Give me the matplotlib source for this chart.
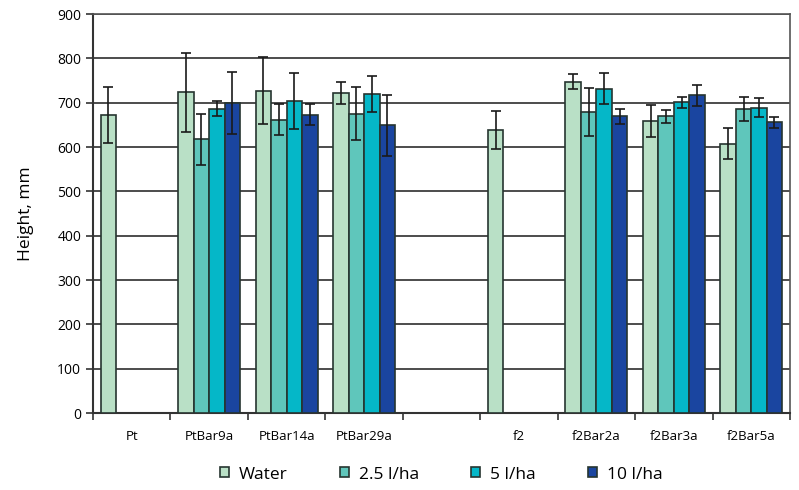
import numpy as np
import matplotlib
matplotlib.use("Agg")
import matplotlib.pyplot as plt

plt.rcParams['font.family'] = ['Open Sans', 'DejaVu Sans']

# categories along the x axis ('' is the empty gap slot)
categories = ["Pt", "PtBar9a", "PtBar14a", "PtBar29a", "", "f2", "f2Bar2a", "f2Bar3a", "f2Bar5a"]
series_names = ["Water", "2.5 l/ha", "5 l/ha", "10 l/ha"]

# heights (mm), nan = no bar
water = [672, 723, 727, 722, np.nan, 638, 747, 658, 607]
dose_25 = [np.nan, 617, 662, 675, np.nan, np.nan, 679, 669, 686]
dose_5 = [np.nan, 686, 703, 720, np.nan, np.nan, 731, 701, 689]
dose_10 = [np.nan, 700, 673, 649, np.nan, np.nan, 669, 717, 656]

# error bar half widths
water_err = [63, 89, 75, 25, 0, 43, 17, 36, 35]
dose_25_err = [0, 58, 35, 60, 0, 0, 55, 14, 27]
dose_5_err = [0, 17, 63, 41, 0, 0, 35, 12, 21]
dose_10_err = [0, 70, 23, 69, 0, 0, 17, 24, 12]

colors = ["#b9e0c6", "#5fc6bb", "#05b7c8", "#1a45a0"]

values = [water, dose_25, dose_5, dose_10]
errors = [water_err, dose_25_err, dose_5_err, dose_10_err]

fig = plt.figure(figsize=(7.99, 4.90), dpi=100)
ax = fig.add_axes([0.1164, 0.1571, 0.8723, 0.8143])

x = np.arange(len(categories))
width = 0.2
offsets = [-0.3, -0.1, 0.1, 0.3]

for vals, errs, off, col, name in zip(values, errors, offsets, colors, series_names):
    vals = np.array(vals, dtype=float)
    errs = np.array(errs, dtype=float)
    mask = ~np.isnan(vals)
    ax.bar(x[mask] + off, vals[mask], width, color=col, edgecolor="#263530",
           linewidth=1.2, label=name, zorder=3)
    ax.errorbar(x[mask] + off, vals[mask], yerr=errs[mask], fmt="none",
                ecolor="#1a1a1a", elinewidth=1.2, capsize=3.5, capthick=1.2, zorder=4)

ax.set_xlim(-0.5, len(categories) - 0.5)
ax.set_ylim(0, 900)
ax.set_yticks(np.arange(0, 901, 100))
ax.yaxis.grid(True, color="#2e2e2e", linewidth=1.2, zorder=0)
ax.set_axisbelow(True)

ax.set_xticks(x)
ax.set_xticklabels(categories, fontsize=9.5)
ax.set_xticks(np.arange(-0.5, len(categories)), minor=True)
ax.tick_params(axis="x", which="major", length=0, pad=12)
ax.tick_params(axis="x", which="minor", length=5, width=1.2, color="#333333")
ax.tick_params(axis="y", length=5, width=1.2, color="#333333", labelsize=10)

for side in ["left", "bottom"]:
    ax.spines[side].set_color("#333333")
    ax.spines[side].set_linewidth(1.5)
for side in ["top", "right"]:
    ax.spines[side].set_color("#555555")
    ax.spines[side].set_linewidth(1.2)

ax.set_ylabel("Height, mm", fontsize=12.5, labelpad=17)

ax.legend(loc="upper center", bbox_to_anchor=(0.5, -0.095), ncol=4, frameon=False,
          fontsize=12.5, handlelength=0.5, handleheight=0.5, handletextpad=0.6,
          columnspacing=3.0)

fig.savefig("out.png", dpi=100)
